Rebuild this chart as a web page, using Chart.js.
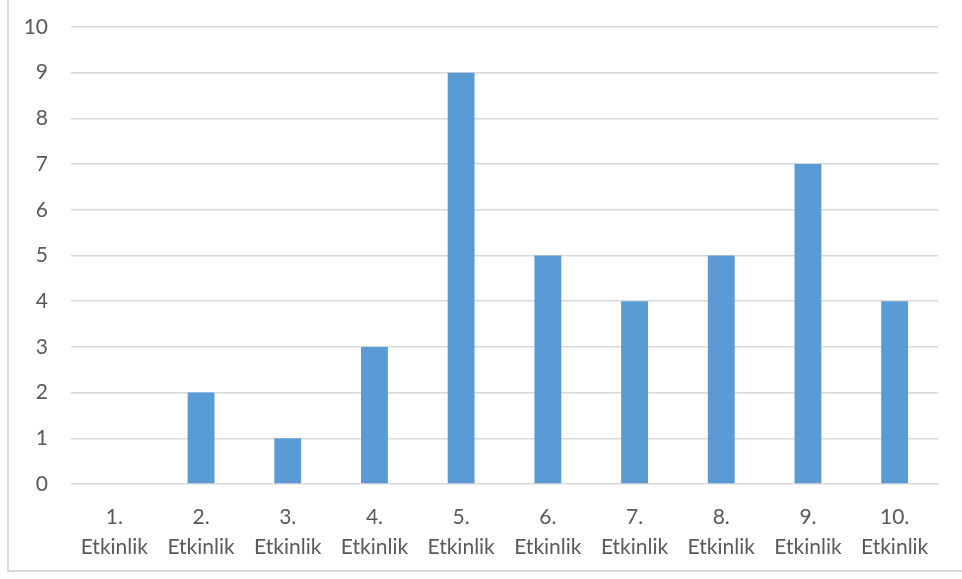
<!DOCTYPE html>
<html>
<head>
<meta charset="utf-8">
<script src="https://cdn.jsdelivr.net/npm/chart.js@4"></script>
<style>
  html, body { margin: 0; padding: 0; background: #fff; }
  #wrap { position: relative; width: 962px; height: 579px; overflow: hidden; }
  #frame { position: absolute; left: 7px; top: -5px; width: 1000px; height: 577px;
           border-left: 2px solid #d9d9d9; border-bottom: 2px solid #d9d9d9; box-sizing: border-box; }
  canvas { position: absolute; left: 0; top: 0; }
</style>
</head>
<body>
<div id="wrap">
  <div id="frame"></div>
  <canvas id="c" width="962" height="579"></canvas>
</div>
<script>
const categories = [["1.", "Etkinlik"], ["2.", "Etkinlik"], ["3.", "Etkinlik"], ["4.", "Etkinlik"], ["5.", "Etkinlik"],
                    ["6.", "Etkinlik"], ["7.", "Etkinlik"], ["8.", "Etkinlik"], ["9.", "Etkinlik"], ["10.", "Etkinlik"]];
const counts = [0, 2, 1, 3, 9, 5, 4, 5, 7, 4];
const yTicks = [0, 1, 2, 3, 4, 5, 6, 7, 8, 9, 10];

const font = { family: "Lato, 'Open Sans', sans-serif", size: 21 };

new Chart(document.getElementById("c"), {
  type: "bar",
  data: {
    labels: categories,
    datasets: [{
      data: counts,
      backgroundColor: "#5b9bd5",
      borderWidth: 0,
      barPercentage: 0.62,
      categoryPercentage: 0.5
    }]
  },
  options: {
    responsive: false,
    animation: false,
    layout: { padding: { left: 0, right: 24, top: 27, bottom: 0 } },
    plugins: { legend: { display: false }, tooltip: { enabled: false } },
    scales: {
      x: {
        grid: { display: false },
        border: { display: false },
        ticks: { color: "#595959", font: { ...font, lineHeight: 1.45 }, padding: 10, maxRotation: 0, autoSkip: false },
        afterFit: s => { s.height = 95; s.paddingLeft = 0; s.paddingRight = 0; }
      },
      y: {
        min: 0, max: 10,
        afterBuildTicks: s => { s.ticks = yTicks.map(v => ({ value: v })); },
        grid: { color: "#d9d9d9", lineWidth: 1.5, drawTicks: false },
        border: { display: false },
        ticks: { color: "#595959", font, padding: 23 },
        afterFit: s => { s.width = 71; s.paddingTop = 0; s.paddingBottom = 0; }
      }
    }
  }
});
</script>
</body>
</html>
